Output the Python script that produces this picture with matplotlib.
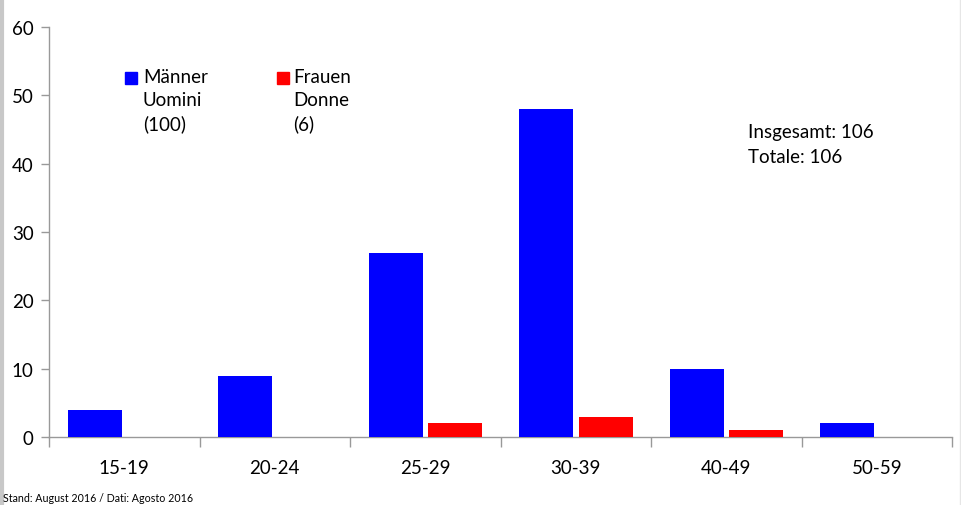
import matplotlib
matplotlib.use("Agg")
import matplotlib.pyplot as plt
import numpy as np
from matplotlib.lines import Line2D
from matplotlib.patches import Rectangle

categories = ["15-19", "20-24", "25-29", "30-39", "40-49", "50-59"]
maenner = [4, 9, 27, 48, 10, 2]
frauen = [0, 0, 2, 3, 1, 0]
legend_labels = ["Männer\nUomini\n(100)", "Frauen\nDonne\n(6)"]
total_text = "Insgesamt: 106\nTotale: 106"
footer = "Stand: August 2016 / Dati: Agosto 2016"
yticks = [0, 10, 20, 30, 40, 50, 60]

plt.rcParams['font.family'] = ['Lato', 'DejaVu Sans']

W, H = 961, 506
fig = plt.figure(figsize=(W / 100, H / 100), dpi=100)
ax = fig.add_axes([49 / W, (H - 438) / H, (952 - 49) / W, (438 - 28) / H])

x = np.arange(len(categories))
bw = 0.36
ax.bar(x - 0.195, maenner, width=bw, color="#0000ff", zorder=3)
ax.bar(x + 0.20, frauen, width=bw, color="#ff0000", zorder=3)

ax.set_xlim(-0.5, len(categories) - 0.5)
ax.set_ylim(0, 60)
ax.set_yticks(yticks)
ax.set_yticklabels([str(v) for v in yticks], fontsize=13.5)

ax.set_xticks(x)
ax.set_xticklabels(categories, fontsize=13.5)
ax.tick_params(axis='x', which='major', length=0, pad=16)
ax.set_xticks(np.arange(-0.5, len(categories)), minor=True)
ax.tick_params(axis='x', which='minor', length=7, color="#999999", width=1, direction='out')
ax.tick_params(axis='y', length=6, color="#999999", width=1, pad=5)

for s in ["top", "right"]:
    ax.spines[s].set_visible(False)
for s in ["left", "bottom"]:
    ax.spines[s].set_color("#999999")
    ax.spines[s].set_linewidth(1)

# legend (manual)
def px(xp, yp):
    return xp / W, 1 - yp / H

for (sx, tx, col, lab) in [(125, 143, "#0000ff", legend_labels[0]),
                           (277, 293, "#ff0000", legend_labels[1])]:
    x0, y0 = px(sx, 85)
    fig.patches.append(Rectangle((x0, y0), 12 / W, 12 / H, transform=fig.transFigure,
                                 color=col, figure=fig))
    tx0, ty0 = px(tx, 69)
    fig.text(tx0, ty0, lab, fontsize=13.5, va="top", ha="left", linespacing=1.42)

tx0, ty0 = px(748, 124)
fig.text(tx0, ty0, total_text, fontsize=13.5, va="top", ha="left", linespacing=1.6)

fx, fy = px(3, 499)
fig.text(fx, fy, footer, fontsize=7.7, va="center", ha="left")

# border lines
fig.lines.append(Line2D([1.5 / W, 1.5 / W], [0, 1], transform=fig.transFigure,
                        color="#c8c8c8", linewidth=3))
fig.lines.append(Line2D([959.5 / W, 959.5 / W], [0, 1], transform=fig.transFigure,
                        color="#e6e6e6", linewidth=1))

fig.savefig("out.png", dpi=100)
